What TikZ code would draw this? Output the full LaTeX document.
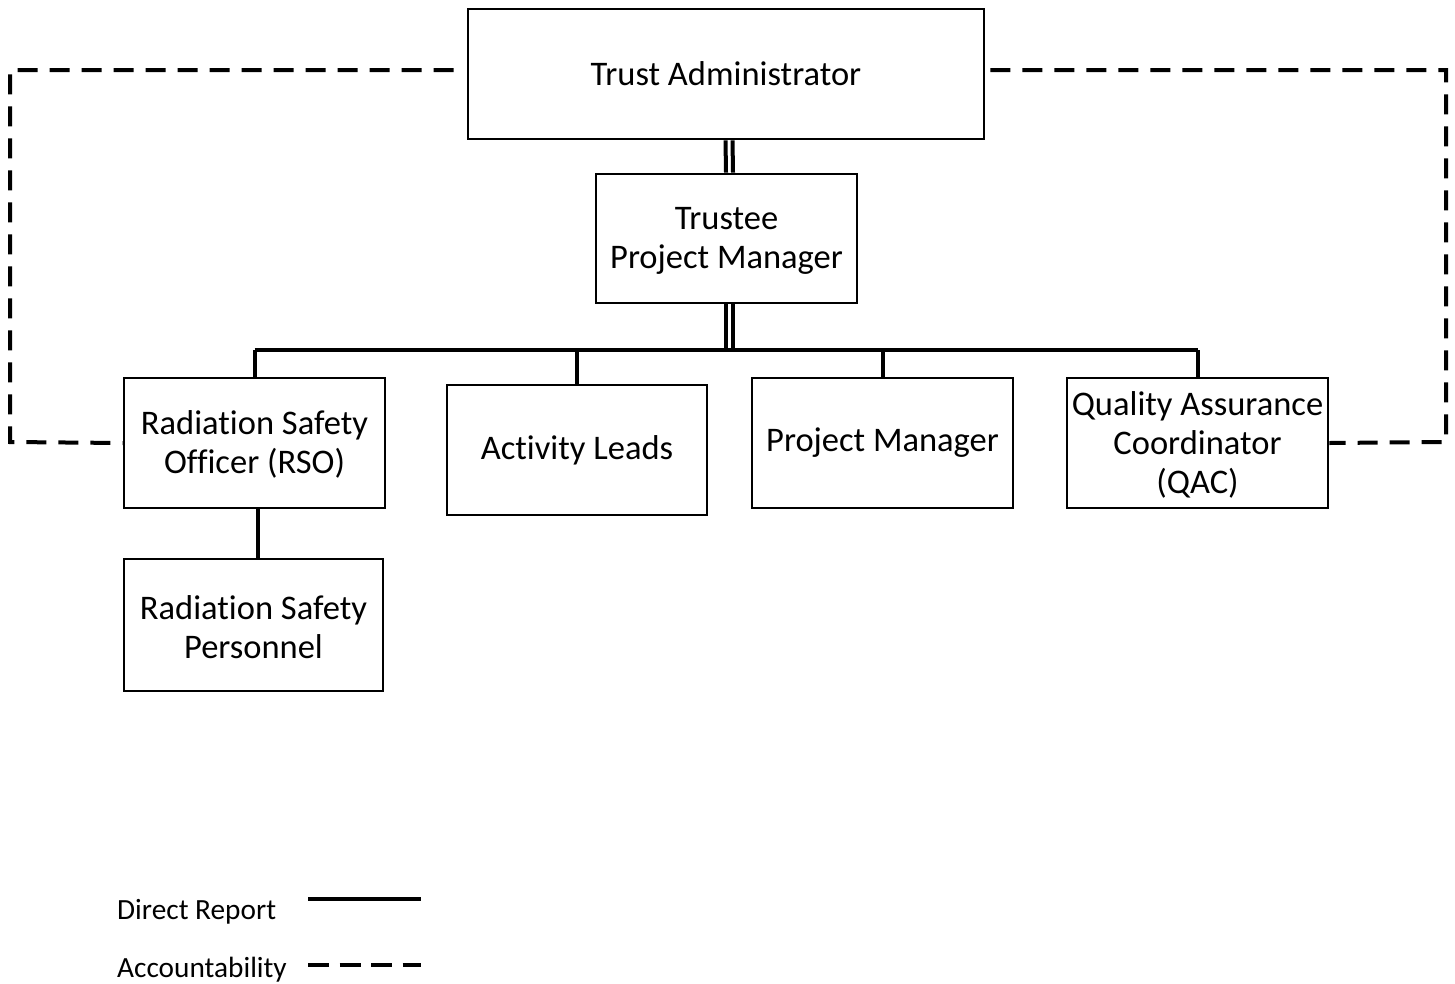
\documentclass[tikz,border=0pt]{standalone}
\usepackage{fontspec}
\setmainfont[Ligatures=NoCommon]{Carlito}
\usetikzlibrary{calc}
\begin{document}
\begin{tikzpicture}[x=1pt,y=-1pt,
  orgbox/.style={draw=black, line width=2.6pt, fill=white, rectangle, align=center, inner sep=0pt,
    minimum width=261pt, minimum height=130pt, font=\fontsize{34.5}{39}\selectfont},
  reportline/.style={draw=black, line width=4pt},
  dblpart/.style={draw=black, line width=4pt},
  acctline/.style={draw=black, line width=4pt, dash pattern=on 20pt off 12pt},
  legendtext/.style={anchor=west, inner sep=0pt, font=\fontsize{29.3}{34}\selectfont}
]
\useasboundingbox (0,0) rectangle (1455,983);

\coordinate (bus) at (729,350);
\coordinate (lc1) at (10,70);
\coordinate (lc2) at (10,442);
\coordinate (rc1) at (1446,70);
\coordinate (rc2) at (1446,442);
\coordinate (ld1) at (308,899);
\coordinate (ld2) at (421,899);
\coordinate (la1) at (308,965);
\coordinate (la2) at (421,965);

\node[orgbox, minimum width=516pt] (TA) at (726,74) {Trust Administrator};
\node[orgbox, minimum height=129pt] (TPM) at (726.5,238.5) {\strut Trustee\\Project Manager};
\node[orgbox] (RSO) at (254.5,443) {\strut Radiation Safety\\Officer (RSO)};
\node[orgbox, minimum width=260pt] (AL) at (577,450) {Activity Leads};
\node[orgbox] (PM) at (882.5,443) {\raisebox{-2pt}{Project Manager}};
\node[orgbox] (QAC) at (1197.5,443) {\strut Quality Assurance\\Coordinator\\(QAC)};
\node[orgbox, minimum width=259pt, minimum height=132pt] (RSP) at (253.5,625) {\strut Radiation Safety\\Personnel};

% double lines
\draw[dblpart] ([xshift=-0.5pt]TA.south) -- ([xshift=-0.5pt]TPM.north);
\draw[dblpart] ([xshift=6.5pt]TA.south) -- ([xshift=6.5pt]TPM.north);
\draw[dblpart] ([xshift=-0.5pt]TPM.south) -- ([xshift=-0.5pt]TPM.south |- bus);
\draw[dblpart] ([xshift=6.5pt]TPM.south) -- ([xshift=6.5pt]TPM.south |- bus);

% bus and drops
\draw[reportline] (RSO.north |- bus) -- (QAC.north |- bus);
\draw[reportline] (RSO.north |- bus) -- (RSO.north);
\draw[reportline] (AL.north |- bus) -- (AL.north);
\draw[reportline] (PM.north |- bus) -- (PM.north);
\draw[reportline] (QAC.north |- bus) -- (QAC.north);
\draw[reportline] ([xshift=3pt]RSO.south) -- ([xshift=3pt]RSO.south |- RSP.north);

% accountability
\draw[acctline] (lc1 -| TA.west) ++(-13,0) -- (lc1) -- (lc2) -- (RSO.west);
\draw[acctline] (rc1 -| TA.east) ++(5,0) -- (rc1) -- (rc2) -- (QAC.east);

% legend
\node[legendtext] (lgd1) at (117,912) {Direct Report};
\node[legendtext] (lgd2) at (117,970) {Accountability};
\draw[reportline] (ld1) -- (ld2);
\draw[draw=black, line width=4pt, dash pattern=on 21pt off 10.5pt] (la1) -- (la2);
\end{tikzpicture}
\end{document}
